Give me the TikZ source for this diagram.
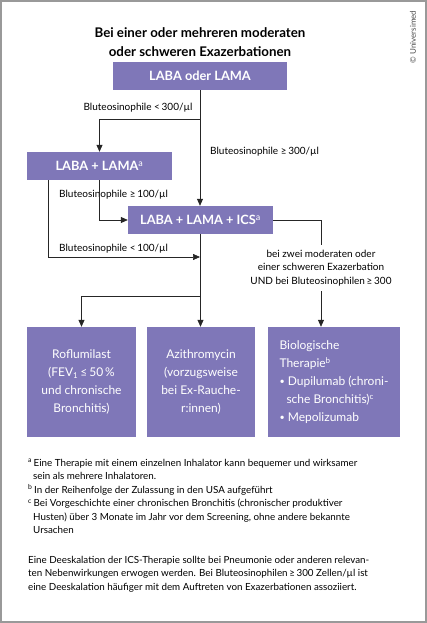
\documentclass[tikz,border=0pt]{standalone}
\usepackage{fontspec}
\setmainfont{Lato}
\usetikzlibrary{arrows.meta,positioning}
\definecolor{boxviolet}{RGB}{127,119,184}
\newcommand{\smallbullet}{{\fontsize{9}{9}\selectfont\raisebox{0.8pt}{•}}}

\begin{document}
\begin{tikzpicture}[x=1pt,y=-1pt,
  box/.style={fill=boxviolet, text=white, inner sep=0pt, align=center},
  headbox/.style={box, font=\bfseries\fontsize{12.8}{14}\selectfont, minimum height=28pt},
  endbox/.style={box, font=\fontsize{12}{18}\selectfont, minimum height=110pt},
  lbl/.style={font=\fontsize{10}{13.5}\selectfont, inner sep=0pt},
  note/.style={font=\fontsize{9.8}{13.5}\selectfont, inner sep=0pt, anchor=north west, align=left},
  conn/.style={draw=black!85, line width=0.7pt},
  arr/.style={-{Triangle[width=6pt,length=7pt]}}]
\useasboundingbox (0,0) rectangle (427,623);
\draw[black!40, line width=1.2pt] (1,1) rectangle (426,622);
% title and credit
\node[font=\bfseries\fontsize{13.3}{19}\selectfont, align=center] (title) at (200,42) {Bei einer oder mehreren moderaten\\oder schweren Exazerbationen};
\node[rotate=90, font=\fontsize{8}{9}\selectfont, text=black!70] (credit) at (413,37) {© Universimed};
% therapy steps
\node[headbox, minimum width=174pt] (start) at (200,76) {LABA oder LAMA};
\node[headbox, minimum width=145pt] (dual) at (99.5,166) {LABA + LAMA\textsuperscript{\mdseries a}};
\node[headbox, minimum width=145pt] (triple) at (200.5,220) {LABA + LAMA + ICS\textsuperscript{\mdseries a}};
\node[endbox, minimum width=109pt] (roflu) at (81.5,382) {Roflumilast\\(FEV\textsubscript{1}\,≤\,50\,\%\\und chronische\\Bronchitis)};
\node[endbox, minimum width=108pt] (azithro) at (201,382) {Azithromycin\\(vorzugsweise\\bei Ex-Rauche-\\r:innen)};
\node[endbox, minimum width=132pt, align=left] (bio) at (334,382) {Biologische\\Therapie\textsuperscript{b}\\\smallbullet\ Dupilumab (chroni-\\\hspace*{7pt}sche Bronchitis)\textsuperscript{c}\\\smallbullet\ Mepolizumab};
% branch points
\coordinate (split1) at (200,119);
\coordinate (dualL) at (48,180);
\coordinate (merge) at (200,257);
\coordinate (split2) at (200,296);
% labels
\node[lbl] (lt300) at (138,108) {Bluteosinophile <\,300/µl};
\node[lbl, anchor=west] (ge300) at (210,152) {Bluteosinophile ≥\,300/µl};
\node[lbl, anchor=west] (ge100) at (59,195) {Bluteosinophile ≥\,100/µl};
\node[lbl, anchor=west] (lt100) at (59,249) {Bluteosinophile <\,100/µl};
\node[lbl, align=center, inner ysep=5pt] (cond) at (321,268) {bei zwei moderaten oder\\einer schweren Exazerbation\\UND bei Bluteosinophilen\,≥\,300};
% connectors
\draw[conn, arr] (start.south) -- (start.south |- triple.north);
\draw[conn, arr] (split1) -| (dual);
\draw[conn, arr] (dual.south) |- (triple);
\draw[conn, arr] (dualL) |- (merge);
\draw[conn, arr] (triple.south) -- (triple.south |- azithro.north);
\draw[conn, arr] (split2) -| (roflu);
\draw[conn] (triple) -| (cond);
\draw[conn, arr] (cond) -- (cond |- bio.north);
% notes
\node[note] (notes) at (28,459) {\textsuperscript{a}\,Eine Therapie mit einem einzelnen Inhalator kann bequemer und wirksamer\\\hspace*{5pt}sein als mehrere Inhalatoren.\\\textsuperscript{b}\,In der Reihenfolge der Zulassung in den USA aufgeführt\\\textsuperscript{c}\,Bei Vorgeschichte einer chronischen Bronchitis (chronischer produktiver\\\hspace*{5pt}Husten) über 3 Monate im Jahr vor dem Screening, ohne andere bekannte\\\hspace*{5pt}Ursachen};
\node[note] (remark) at (28,556) {Eine Deeskalation der ICS-Therapie sollte bei Pneumonie oder anderen relevan-\\ten Nebenwirkungen erwogen werden. Bei Bluteosinophilen\,≥\,300 Zellen/µl ist\\eine Deeskalation häufiger mit dem Auftreten von Exazerbationen assoziiert.};
\end{tikzpicture}
\end{document}
